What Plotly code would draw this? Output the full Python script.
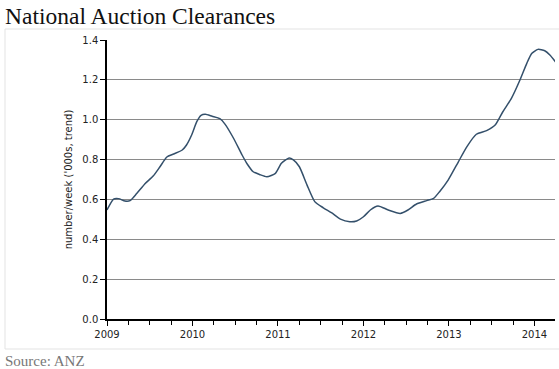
import plotly.graph_objects as go

# Data (decimal years, number/week '000s trend)
years = [2009.0, 2009.077, 2009.136, 2009.21, 2009.27, 2009.35, 2009.45, 2009.54, 2009.62, 2009.70,
         2009.78, 2009.88, 2009.93, 2009.99, 2010.05, 2010.10, 2010.15, 2010.23, 2010.32, 2010.38,
         2010.48, 2010.58, 2010.64, 2010.71, 2010.79, 2010.87, 2010.97, 2011.04, 2011.13, 2011.18,
         2011.25, 2011.34, 2011.43, 2011.53, 2011.63, 2011.73, 2011.84, 2011.92, 2012.0, 2012.08,
         2012.17, 2012.29, 2012.43, 2012.52, 2012.62, 2012.74, 2012.82, 2012.89, 2012.99, 2013.11,
         2013.21, 2013.32, 2013.44, 2013.54, 2013.63, 2013.73, 2013.83, 2013.91, 2013.97, 2014.04,
         2014.12, 2014.18, 2014.25]
values = [0.547, 0.602, 0.604, 0.592, 0.594, 0.631, 0.681, 0.717, 0.764, 0.813,
          0.828, 0.848, 0.873, 0.923, 0.990, 1.022, 1.027, 1.017, 1.005, 0.978,
          0.907, 0.823, 0.778, 0.739, 0.724, 0.714, 0.731, 0.781, 0.808, 0.798,
          0.764, 0.672, 0.589, 0.558, 0.532, 0.501, 0.488, 0.492, 0.513, 0.547,
          0.567, 0.547, 0.530, 0.547, 0.577, 0.594, 0.605, 0.639, 0.697, 0.789,
          0.865, 0.927, 0.945, 0.973, 1.040, 1.107, 1.199, 1.283, 1.333, 1.353,
          1.346, 1.325, 1.288]
x_tick_vals = [2009, 2010, 2011, 2012, 2013, 2014]
x_tick_text = ["2009", "2010", "2011", "2012", "2013", "2014"]
y_tick_vals = [0.0, 0.2, 0.4, 0.6, 0.8, 1.0, 1.2, 1.4]

title_text = "National Auction Clearances"
source_text = "Source: ANZ"
y_title = "number/week ('000s, trend)"

W, H = 559, 369
ML, MR, MT, MB = 107, 4, 40, 50
PW, PH = W - ML - MR, H - MT - MB


def px_x(x):
    return (x - ML) / PW


def px_y(y):
    return (H - MB - y) / PH


fig = go.Figure()
fig.add_trace(go.Scatter(
    x=years, y=values, mode="lines",
    line=dict(color="#34506b", width=1.5, shape="spline", smoothing=0.6),
    hoverinfo="skip", showlegend=False,
))

tick_font = dict(family="DejaVu Sans", size=10, color="#222222")

fig.update_layout(
    width=W, height=H,
    margin=dict(l=ML, r=MR, t=MT, b=MB),
    paper_bgcolor="white", plot_bgcolor="white",
    xaxis=dict(
        range=[2009, 2014.24], tickmode="array", tickvals=x_tick_vals, ticktext=x_tick_text,
        ticks="outside", ticklen=5, tickcolor="black", showline=True, linecolor="black",
        linewidth=1.5, showgrid=False, zeroline=False, tickfont=tick_font, automargin=False,
        minor=dict(dtick=0.25, tick0=2009, ticks="outside", ticklen=4, tickcolor="black", showgrid=False),
    ),
    yaxis=dict(
        range=[0, 1.4], tickmode="array", tickvals=y_tick_vals, tickformat=".1f",
        ticks="outside", ticklen=5, tickcolor="black", showline=True, linecolor="black",
        linewidth=1.5, showgrid=True, gridcolor="#8a8a8a", gridwidth=1, zeroline=False,
        tickfont=tick_font, automargin=False,
        title=dict(text=y_title, font=dict(family="DejaVu Sans", size=10, color="#222222"), standoff=8),
    ),
    shapes=[
        dict(type="rect", xref="paper", yref="paper", x0=px_x(5), x1=px_x(W + 5), y0=px_y(349), y1=px_y(29),
             line=dict(color="#e3e3e3", width=1), layer="below"),
    ],
    annotations=[
        dict(text=title_text, xref="paper", yref="paper", x=px_x(3), y=px_y(1), xanchor="left",
             yanchor="top", showarrow=False,
             font=dict(family="Liberation Serif", size=23.5, color="#111111")),
        dict(text=source_text, xref="paper", yref="paper", x=px_x(3), y=px_y(361), xanchor="left",
             yanchor="middle", showarrow=False,
             font=dict(family="Liberation Serif", size=15, color="#777777")),
    ],
)

fig.write_html("out.html", config={"displayModeBar": False},
               post_script="document.body.style.margin='0';")
